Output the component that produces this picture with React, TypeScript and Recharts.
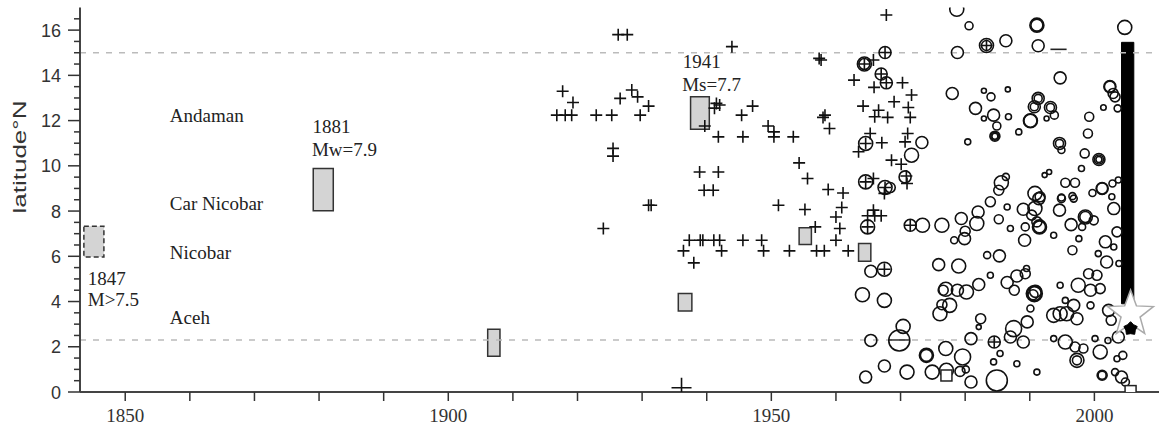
import React from 'react';
import { ScatterChart, Scatter, XAxis, YAxis, ReferenceLine, ReferenceArea } from 'recharts';

// Instrumental events: [year, latitude °N, magnitude]
const CIRCLES: [number, number, number][] = [
  [1978.7, 16.92, 6.8], [1980.6, 16.19, 5.6], [1978.8, 15.01, 6.4], [1983.3, 15.32, 6.8], [1983.3, 15.32, 6.0],
  [1978.0, 13.2, 6.4], [1981.6, 12.54, 6.4], [1982.9, 13.32, 5.0], [1982.9, 12.09, 5.0], [1980.4, 11.06, 5.2],
  [1967.6, 15.01, 6.4], [1964.4, 14.5, 6.8], [1964.4, 14.5, 6.2], [1967.0, 14.06, 6.4], [1967.8, 13.67, 6.4],
  [1964.6, 10.99, 6.8], [1973.3, 11.03, 6.4], [1971.7, 10.47, 6.8], [1970.7, 9.51, 6.4], [1964.6, 9.29, 6.8],
  [1967.6, 9.04, 6.8], [1968.4, 9.04, 6.0],
  [1991.1, 16.22, 6.8], [1991.1, 16.22, 6.4], [2004.7, 16.12, 6.8], [1986.3, 15.53, 6.4], [1991.3, 15.31, 6.4],
  [1994.7, 13.89, 6.4], [1986.6, 13.38, 5.0], [1984.0, 13.05, 5.6], [1991.3, 12.98, 6.4], [1991.3, 12.98, 5.6],
  [1990.7, 12.61, 6.4], [1990.7, 12.61, 5.6], [1993.2, 12.58, 6.4], [1993.2, 12.58, 5.6], [1993.8, 12.24, 5.6],
  [1992.6, 12.09, 5.0], [1984.4, 12.24, 6.4], [1986.7, 12.17, 5.2], [1990.1, 11.99, 6.8], [1990.1, 11.99, 6.6],
  [1984.9, 11.76, 5.6], [1984.6, 11.31, 6.0], [1984.6, 11.31, 5.6], [1984.6, 11.31, 5.2], [1988.3, 11.5, 5.2],
  [1994.6, 10.99, 6.4], [1994.6, 10.99, 5.6], [1994.9, 10.7, 5.4], [1999.2, 12.17, 5.8], [1999.0, 11.43, 5.8],
  [1998.5, 10.55, 5.8], [2000.7, 10.28, 6.4], [2000.7, 10.28, 5.8], [2000.7, 10.28, 5.2], [1998.0, 9.88, 5.2],
  [2002.4, 13.5, 6.4], [2002.4, 13.5, 6.2], [2002.9, 13.2, 6.0], [2003.2, 13.05, 6.0], [2003.6, 12.54, 5.4],
  [2001.4, 12.58, 5.1], [1985.6, 9.25, 6.8], [1986.3, 9.51, 5.4], [1985.2, 8.92, 6.0], [1992.3, 9.59, 5.0],
  [1993.0, 9.73, 5.0], [1990.8, 8.78, 6.8], [1991.6, 8.63, 6.0], [1995.5, 9.25, 5.8], [1997.0, 9.25, 5.8],
  [1994.9, 8.6, 5.4], [1996.6, 8.66, 5.4], [1999.7, 8.8, 5.4], [2001.2, 9.0, 6.4], [2001.2, 9.0, 6.2],
  [2002.8, 9.22, 5.4], [2003.7, 9.37, 5.2],
  [1964.9, 7.3, 6.8], [1971.5, 7.37, 6.4], [1973.4, 7.37, 6.8], [1976.4, 7.37, 6.8], [1979.4, 7.67, 6.4],
  [1980.0, 7.11, 6.0], [1981.8, 7.45, 6.8], [1982.0, 7.96, 6.4], [1978.3, 6.71, 5.4], [1979.9, 6.78, 6.4],
  [1965.4, 5.34, 6.4], [1967.5, 5.43, 6.8], [1975.9, 5.63, 6.4], [1979.0, 5.57, 6.8], [1982.1, 4.75, 6.4],
  [1964.1, 4.3, 6.8], [1967.5, 4.05, 6.8], [1977.0, 4.54, 6.8], [1976.6, 4.5, 6.0], [1978.8, 4.5, 6.4],
  [1980.2, 4.42, 6.8], [1977.6, 3.83, 6.8], [1976.4, 3.86, 6.0], [1976.1, 3.46, 6.8], [1982.4, 3.24, 6.0],
  [1982.1, 2.87, 5.0], [1970.4, 2.9, 6.8], [1969.8, 2.28, 8.2], [1965.4, 2.28, 6.4], [1980.9, 2.36, 6.4],
  [1977.0, 1.92, 6.8], [1974.0, 1.62, 6.8], [1974.0, 1.62, 6.4], [1979.6, 1.55, 7.2], [1967.5, 1.15, 6.4],
  [1971.0, 0.88, 6.8], [1974.9, 0.88, 6.8], [1977.1, 0.96, 6.8], [1979.2, 0.91, 6.0], [1980.1, 1.0, 5.4],
  [1964.6, 0.66, 6.4], [1980.9, 0.44, 6.4],
  [1983.9, 8.41, 6.0], [1986.5, 8.18, 5.2], [1989.0, 8.08, 6.4], [1990.8, 8.11, 6.8], [1991.4, 8.55, 6.4],
  [1990.3, 7.82, 6.0], [1991.5, 7.3, 6.8], [1991.5, 7.3, 6.4], [1991.1, 7.52, 6.0], [1985.2, 7.64, 5.8],
  [1987.0, 7.23, 5.2], [1989.3, 7.3, 5.6], [1989.2, 6.71, 6.4], [1993.7, 6.93, 5.2], [1994.6, 8.04, 6.4],
  [1994.9, 8.55, 5.6], [1996.8, 8.55, 5.4], [1996.4, 7.4, 6.4], [1998.6, 7.74, 6.8], [1998.6, 7.74, 6.2],
  [1999.9, 7.59, 5.8], [1998.1, 7.3, 5.4], [1997.6, 6.78, 5.2], [1996.6, 6.27, 5.8], [2001.7, 6.64, 6.4],
  [2003.0, 6.41, 5.2], [2003.0, 8.11, 6.4], [2002.7, 8.63, 5.2], [2003.5, 7.08, 6.0], [2000.6, 6.12, 5.2],
  [2001.9, 5.75, 6.4], [2003.8, 5.68, 5.2], [1985.3, 6.02, 6.4], [1983.4, 6.05, 5.4], [1983.9, 5.16, 5.2],
  [1986.5, 4.84, 6.4], [1987.6, 4.5, 6.0], [1988.0, 5.13, 6.4], [1989.3, 5.23, 6.0], [1989.5, 5.46, 5.2],
  [1990.7, 4.35, 7.2], [1990.7, 4.35, 6.8], [1990.9, 4.45, 6.4], [1990.5, 4.3, 6.0], [1990.1, 3.69, 5.4],
  [1994.7, 4.72, 5.2], [1997.5, 4.72, 6.8], [1999.1, 5.23, 6.0], [2000.4, 5.16, 6.0], [1999.4, 4.5, 6.4],
  [2000.9, 4.57, 6.0], [1995.5, 4.05, 5.2], [1996.8, 3.83, 6.4], [1993.7, 3.39, 6.8], [1994.7, 3.46, 6.8],
  [1995.7, 3.46, 6.8], [1997.3, 3.24, 6.4], [1999.4, 3.83, 5.4], [2002.2, 3.61, 6.4], [2002.6, 3.17, 6.0],
  [1989.6, 3.1, 6.4], [1987.5, 2.8, 7.2], [1987.0, 2.43, 6.4], [1989.0, 2.21, 6.4], [1984.5, 2.21, 6.4],
  [1985.4, 1.7, 5.2], [1984.4, 1.33, 5.2], [1988.0, 1.25, 5.2], [1984.9, 0.51, 8.2], [1991.1, 0.88, 5.2],
  [1993.7, 2.36, 5.2], [1995.5, 2.21, 6.8], [1997.0, 1.99, 6.0], [1998.3, 1.92, 5.8], [1997.3, 1.4, 6.8],
  [1997.3, 1.4, 5.8], [2000.1, 2.36, 5.2], [2000.9, 1.77, 6.8], [2002.1, 2.28, 5.2], [2003.7, 2.43, 6.4],
  [2003.5, 1.47, 5.2], [2004.4, 1.62, 5.6], [2001.2, 0.74, 6.0], [2001.2, 0.74, 5.6], [2003.2, 0.88, 5.4],
  [2004.2, 0.66, 6.4], [2004.8, 0.44, 5.6],
];

// Historical (pre-instrumental) events: [year, latitude °N]
const CROSSES: [number, number][] = [
  [1916.8, 12.24], [1918.1, 12.24], [1919.1, 12.24], [1917.7, 13.3], [1919.3, 12.8], [1922.9, 12.24],
  [1925.3, 12.24], [1926.6, 12.98], [1928.4, 13.35], [1929.3, 13.05], [1931.0, 12.64], [1929.7, 12.24],
  [1926.3, 15.8], [1927.7, 15.8], [1925.5, 10.77], [1925.5, 10.43], [1924.0, 7.23], [1931.0, 8.26],
  [1931.4, 8.26], [1943.9, 15.27], [1957.4, 14.75], [1957.7, 14.68], [1939.7, 11.76], [1941.5, 12.76],
  [1942.0, 12.69], [1941.2, 12.55], [1945.4, 12.24], [1947.1, 12.64], [1941.8, 11.28], [1945.6, 11.28],
  [1949.5, 11.76], [1950.4, 11.5], [1950.4, 11.28], [1953.4, 11.28], [1954.3, 10.13], [1955.6, 9.44],
  [1958.8, 8.95], [1961.1, 8.8], [1938.9, 9.73], [1941.8, 9.73], [1939.6, 8.92], [1941.0, 8.92],
  [1958.3, 12.24], [1958.0, 12.14], [1959.0, 11.65], [1962.8, 13.79], [1951.1, 8.26], [1955.2, 8.07],
  [1960.9, 8.16], [1960.0, 7.74], [1956.8, 7.3], [1960.6, 7.23], [1960.0, 6.71], [1937.3, 6.71],
  [1939.0, 6.71], [1939.4, 6.71], [1941.1, 6.71], [1942.0, 6.71], [1945.6, 6.71], [1948.5, 6.71],
  [1936.4, 6.24], [1942.3, 6.24], [1948.8, 6.24], [1952.8, 6.24], [1957.0, 6.24], [1958.2, 6.24],
  [1961.9, 6.24], [1938.0, 5.71],
  [1967.8, 16.67], [1965.8, 14.68], [1965.9, 13.47], [1970.3, 13.67], [1971.7, 13.13], [1969.0, 12.83],
  [1964.2, 12.64], [1966.6, 12.46], [1971.2, 12.58], [1966.0, 12.17], [1968.0, 12.14], [1971.5, 12.14],
  [1965.3, 11.43], [1967.1, 11.02], [1971.1, 11.43], [1970.7, 11.06], [1963.5, 10.62], [1968.6, 10.25],
  [1970.1, 10.07], [1971.0, 9.22], [1965.8, 9.44], [1967.5, 8.78], [1965.8, 8.04], [1964.9, 7.79],
  [1966.0, 7.79], [1967.0, 7.79], [1964.9, 7.3], [1971.5, 7.37], [1967.5, 5.43], [1967.6, 15.01],
  [1964.4, 14.5], [1967.0, 14.06], [1967.8, 13.67], [1964.6, 10.99], [1964.6, 9.29], [1967.6, 9.04],
  [1984.5, 2.21], [1983.3, 15.32], [1970.9, 9.55],
];
const BIG_CROSSES: [number, number][] = [[1936.1, 0.19]];

// Rupture extents of large historical earthquakes: year range, latitude range
const RUPTURES = [
  { x1: 1843.6, x2: 1846.7, y1: 5.97, y2: 7.33, dashed: true },
  { x1: 1879.1, x2: 1882.2, y1: 8.01, y2: 9.88, dashed: false },
  { x1: 1906.1, x2: 1908.0, y1: 1.58, y2: 2.77, dashed: false },
  { x1: 1935.6, x2: 1937.7, y1: 3.58, y2: 4.35, dashed: false },
  { x1: 1937.5, x2: 1940.4, y1: 11.62, y2: 13.05, dashed: false },
  { x1: 1954.3, x2: 1956.2, y1: 6.52, y2: 7.26, dashed: false },
  { x1: 1963.5, x2: 1965.4, y1: 5.78, y2: 6.57, dashed: false },
];
const RUPTURE_2004 = { x1: 2004.2, x2: 2006.1, y1: 3.9, y2: 15.46 };
const EPICENTER: [number, number][] = [[2005.6, 3.45]];
const PENTAGON: [number, number][] = [[2005.6, 2.8]];
const SQUARES: [number, number][] = [[1977.1, 0.73], [2005.6, 0.04]];

const NOTES: { text: string; year: number; lat: number }[] = [
  { text: 'Andaman', year: 1856.9, lat: 12.24 },
  { text: 'Car Nicobar', year: 1856.9, lat: 8.35 },
  { text: 'Nicobar', year: 1856.9, lat: 6.18 },
  { text: 'Aceh', year: 1856.9, lat: 3.3 },
  { text: '1847', year: 1844.2, lat: 5.0 },
  { text: 'M>7.5', year: 1844.2, lat: 4.08 },
  { text: '1881', year: 1879.0, lat: 11.75 },
  { text: 'Mw=7.9', year: 1878.9, lat: 10.72 },
  { text: '1941', year: 1936.3, lat: 14.63 },
  { text: 'Ms=7.7', year: 1936.2, lat: 13.6 },
];

const X_TICKS = [1850, 1860, 1870, 1880, 1890, 1900, 1910, 1920, 1930, 1940, 1950, 1960, 1970, 1980, 1990, 2000];
const Y_TICKS = [0, 0.5, 1, 1.5, 2, 2.5, 3, 3.5, 4, 4.5, 5, 5.5, 6, 6.5, 7, 7.5, 8, 8.5, 9, 9.5, 10, 10.5, 11, 11.5,
  12, 12.5, 13, 13.5, 14, 14.5, 15, 15.5, 16, 16.5];
const BOUNDARY_LATS = [15, 2.3];

const SERIF = '"Liberation Serif", "Times New Roman", serif';
const SANS = '"Liberation Sans", Arial, sans-serif';

const circleData = CIRCLES.map(([year, lat, m]) => ({ year, lat, m }));
const crossData = CROSSES.map(([year, lat]) => ({ year, lat }));
const bigCrossData = BIG_CROSSES.map(([year, lat]) => ({ year, lat }));
const toPts = (arr: [number, number][]) => arr.map(([year, lat]) => ({ year, lat }));

const starPath = (cx: number, cy: number, R: number, r: number) => {
  const pts: string[] = [];
  for (let i = 0; i < 10; i++) {
    const a = -Math.PI / 2 + (i * Math.PI) / 5;
    const rad = i % 2 === 0 ? R : r;
    pts.push(`${cx + rad * Math.cos(a)},${cy + rad * Math.sin(a)}`);
  }
  return 'M' + pts.join('L') + 'Z';
};

const CircleShape = (p: any) => {
  const r = (p.payload.m - 4) * 2.5;
  return <circle cx={p.cx} cy={p.cy} r={r} fill="none" stroke="#111" strokeWidth={1.6} />;
};
const crossShape = (h: number) => (p: any) => (
  <path d={`M${p.cx - h},${p.cy}h${2 * h}M${p.cx},${p.cy - h}v${2 * h}`} stroke="#111" strokeWidth={1.6} fill="none" />
);
const StarShape = (p: any) => (
  <path d={starPath(p.cx, p.cy, 24, 10)} fill="#fff" stroke="#aaa" strokeWidth={1.5} />
);
const PentShape = (p: any) => <path d={starPath(p.cx, p.cy, 7, 5)} fill="#000" stroke="#000" />;
const SquareShape = (p: any) => (
  <rect x={p.cx - 5.5} y={p.cy - 5.5} width={11} height={11} fill="#fff" stroke="#222" strokeWidth={1.5} />
);
const NoteShape = (p: any) => (
  <text x={p.cx} y={p.cy} dominantBaseline="central" fontFamily={SERIF} fontSize={19} fill="#222">
    {p.payload.text}
  </text>
);

const XTick = (p: any) => {
  const v = p.payload.value;
  return (
    <g>
      <line x1={p.x} x2={p.x} y1={p.y} y2={p.y + 9} stroke="#333" strokeWidth={1.5} />
      {v % 50 === 0 && (
        <text x={p.x} y={p.y + 30} textAnchor="middle" fontFamily={SERIF} fontSize={19} fill="#333">
          {v}
        </text>
      )}
    </g>
  );
};
const YTick = (p: any) => {
  const v = p.payload.value;
  const major = v % 2 === 0;
  return (
    <g>
      <line x1={p.x - (major ? 12 : 6)} x2={p.x} y1={p.y} y2={p.y} stroke="#333" strokeWidth={1.5} />
      {major && v <= 16 && (
        <text x={p.x - 19} y={p.y + 6.5} textAnchor="end" fontFamily={SANS} fontSize={18} fill="#333">
          {v}
        </text>
      )}
    </g>
  );
};
const YLabel = () => (
  <text x={20} y={157} transform="rotate(-90 20 157)" textAnchor="middle" dominantBaseline="central"
    fontFamily={SANS} fontSize={18} fill="#333" textLength={113} lengthAdjust="spacingAndGlyphs">
    latitude°N
  </text>
);

export default function App() {
  return (
    <div style={{ position: 'absolute', left: 0, top: 0, width: 1159, height: 427, background: '#fff' }}>
      <ScatterChart width={1159} height={427} margin={{ top: 7.5, right: 0, bottom: 0, left: 30 }}>
        <XAxis type="number" dataKey="year" domain={[1843, 2010]} ticks={X_TICKS} interval={0}
          tick={<XTick />} tickSize={0} tickMargin={0} tickLine={false} height={35}
          axisLine={{ stroke: '#444', strokeWidth: 2 }} allowDataOverflow />
        <YAxis type="number" dataKey="lat" domain={[0, 17]} ticks={Y_TICKS} interval={0}
          tick={<YTick />} tickSize={0} tickMargin={0} tickLine={false} width={50}
          axisLine={{ stroke: '#444', strokeWidth: 2 }} label={<YLabel />} allowDataOverflow />
        {BOUNDARY_LATS.map((y) => (
          <ReferenceLine key={y} y={y} stroke="#bbb" strokeWidth={1.5} strokeDasharray="6 7" />
        ))}
        {RUPTURES.map((r, i) => (
          <ReferenceArea key={i} x1={r.x1} x2={r.x2} y1={r.y1} y2={r.y2} fill="#d4d4d4" fillOpacity={1}
            stroke="#333" strokeWidth={1.5} strokeDasharray={r.dashed ? '5 3' : undefined} ifOverflow="visible" />
        ))}
        <ReferenceLine segment={[{ x: 1993.2, y: 15.15 }, { x: 1995.7, y: 15.15 }]} stroke="#222" strokeWidth={1.6} />
        <ReferenceLine segment={[{ x: 1968.2, y: 2.3 }, { x: 1971.4, y: 2.3 }]} stroke="#222" strokeWidth={1.4} />
        <Scatter data={circleData} shape={CircleShape} isAnimationActive={false} />
        <Scatter data={crossData} shape={crossShape(6)} isAnimationActive={false} />
        <Scatter data={bigCrossData} shape={crossShape(10)} isAnimationActive={false} />
        <Scatter data={toPts(SQUARES)} shape={SquareShape} isAnimationActive={false} />
        <ReferenceArea x1={RUPTURE_2004.x1} x2={RUPTURE_2004.x2} y1={RUPTURE_2004.y1} y2={RUPTURE_2004.y2}
          fill="#000" fillOpacity={1} stroke="#000" ifOverflow="visible" />
        <Scatter data={toPts(EPICENTER)} shape={StarShape} isAnimationActive={false} />
        <Scatter data={toPts(PENTAGON)} shape={PentShape} isAnimationActive={false} />
        <Scatter data={NOTES} dataKey="lat" shape={NoteShape} isAnimationActive={false} />
      </ScatterChart>
    </div>
  );
}
